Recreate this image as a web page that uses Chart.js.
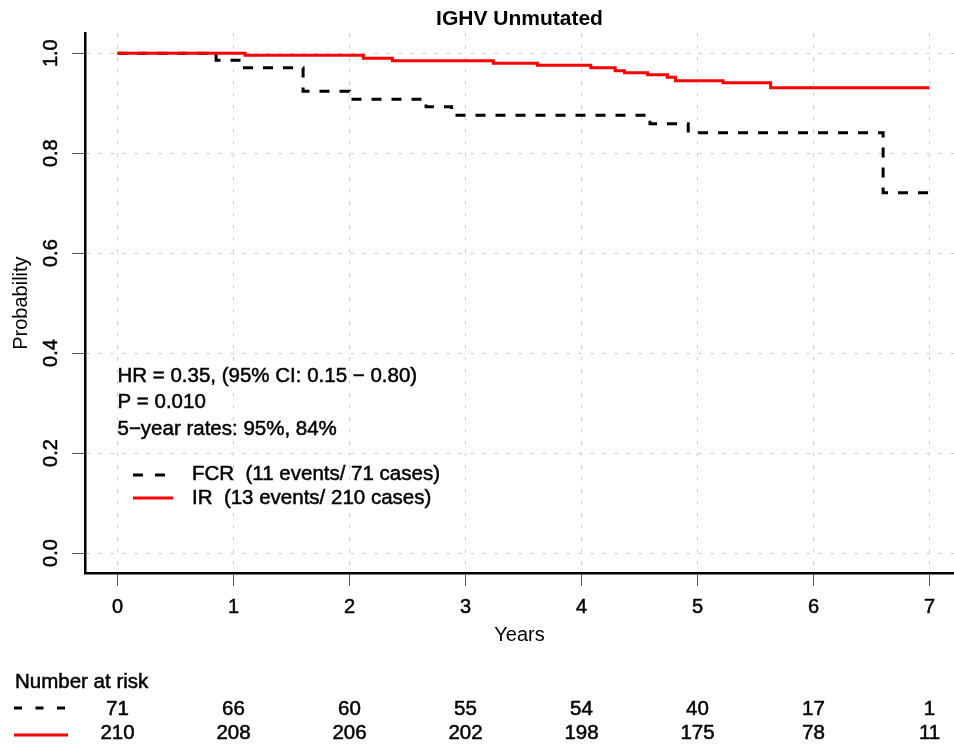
<!DOCTYPE html>
<html>
<head>
<meta charset="utf-8">
<title>IGHV Unmutated</title>
<script src="https://cdn.jsdelivr.net/npm/chart.js@4.4.1/dist/chart.umd.min.js"></script>
<style>
  html, body { margin: 0; padding: 0; background: #fff; }
  #wrap { width: 954px; height: 746px; }
</style>
</head>
<body>
<div id="wrap"><canvas id="km" width="954" height="746"></canvas></div>
<script>
// Kaplan-Meier steps (years, survival probability)
const fcrTimes = [0, 0.85, 1.08, 1.6, 2.0, 2.66, 2.88, 4.59, 4.92, 6.6, 7.0];
const fcrSurv  = [1.0, 0.986, 0.971, 0.924, 0.908, 0.893, 0.876, 0.859, 0.841, 0.721, 0.721];

const irTimes = [0, 1.1, 2.12, 2.37, 3.24, 3.62, 4.08, 4.29, 4.37, 4.57, 4.74, 4.81, 5.22, 5.63, 7.0];
const irSurv  = [1.0, 0.996, 0.990, 0.985, 0.980, 0.976, 0.971, 0.965, 0.961, 0.957, 0.952, 0.945, 0.941, 0.931, 0.931];

const yearTicks = [0, 1, 2, 3, 4, 5, 6, 7];
const probTicks = [0, 0.2, 0.4, 0.6, 0.8, 1.0];

// number at risk table
const riskYears = [0, 1, 2, 3, 4, 5, 6, 7];
const fcrRisk = [71, 66, 60, 55, 54, 40, 17, 1];
const irRisk  = [210, 208, 206, 202, 198, 175, 78, 11];

const statLines = [
  'HR = 0.35, (95% CI: 0.15 \u2212 0.80)',
  'P = 0.010',
  '5\u2212year rates: 95%, 84%',
];
const legendLabels = ['FCR  (11 events/ 71 cases)', 'IR  (13 events/ 210 cases)'];

const FAMILY = '"Liberation Sans", Arial, Helvetica, sans-serif';

function toPoints(times, surv) {
  return times.map((t, i) => ({ x: t, y: surv[i] }));
}

function sampleLine(ctx, x1, x2, y, color, dash) {
  ctx.save();
  ctx.strokeStyle = color;
  ctx.lineWidth = 3;
  ctx.setLineDash(dash);
  ctx.beginPath();
  ctx.moveTo(x1, y);
  ctx.lineTo(x2, y);
  ctx.stroke();
  ctx.restore();
}

function heavyText(ctx, s, x, y) {
  ctx.fillText(s, x, y);
  ctx.strokeText(s, x, y);
}

// stats text, in-plot legend and the number-at-risk table
const kmText = {
  id: 'kmText',
  afterDraw(chart) {
    const { ctx, scales: { x } } = chart;
    ctx.save();
    ctx.fillStyle = '#000';
    ctx.strokeStyle = '#000';
    ctx.lineWidth = 0.5;
    ctx.font = `20.5px ${FAMILY}`;
    ctx.textBaseline = 'middle';
    ctx.textAlign = 'left';

    const x0 = x.getPixelForValue(0);
    statLines.forEach((s, i) => heavyText(ctx, s, x0, 376 + i * 26.5));

    sampleLine(ctx, 133, 165, 475, '#000', [10, 12]);
    sampleLine(ctx, 133, 173, 498, '#ff0000', []);
    heavyText(ctx, legendLabels[0], 192, 474);
    heavyText(ctx, legendLabels[1], 192, 498);

    heavyText(ctx, 'Number at risk', 15, 682);
    sampleLine(ctx, 14, 65, 708, '#000', [8, 13.5]);
    sampleLine(ctx, 14, 68, 735, '#ff0000', []);
    ctx.textAlign = 'center';
    riskYears.forEach((yr, i) => {
      const px = x.getPixelForValue(yr);
      heavyText(ctx, String(fcrRisk[i]), px, 709);
      heavyText(ctx, String(irRisk[i]), px, 733);
    });
    ctx.restore();
  },
};

const axisFont = { family: FAMILY, size: 20 };

new Chart(document.getElementById('km'), {
  type: 'line',
  data: {
    datasets: [
      {
        label: 'FCR',
        data: toPoints(fcrTimes, fcrSurv),
        borderColor: '#000000',
        borderWidth: 3,
        borderDash: [10, 10],
        stepped: true,
        pointRadius: 0,
        fill: false,
        order: 1,
      },
      {
        label: 'IR',
        data: toPoints(irTimes, irSurv),
        borderColor: '#ff0000',
        borderWidth: 3,
        stepped: true,
        pointRadius: 0,
        fill: false,
        order: 0,
      },
    ],
  },
  options: {
    responsive: false,
    animation: false,
    layout: { padding: 0 },
    plugins: {
      legend: { display: false },
      tooltip: { enabled: false },
      title: {
        display: true,
        text: 'IGHV Unmutated',
        fullSize: false,
        color: '#000',
        font: { family: FAMILY, size: 21, weight: 'bold', lineHeight: 1.2 },
        padding: { top: 7, bottom: 1 },
      },
    },
    scales: {
      x: {
        type: 'linear',
        min: -0.28,
        max: 7.211, // plot region is cut off at the right edge of the figure
        afterBuildTicks: (s) => { s.ticks = yearTicks.map((v) => ({ value: v })); },
        afterFit: (s) => { s.height = 173; },
        ticks: {
          color: '#000',
          font: axisFont,
          padding: 9,
          maxRotation: 0,
          autoSkip: false,
          textStrokeColor: '#000',
          textStrokeWidth: 0.5,
          callback: (v) => String(v),
        },
        grid: { color: '#cccccc', lineWidth: 1, tickColor: '#555555', tickLength: 13, tickWidth: 1 },
        border: { display: true, color: '#000', width: 2.5, dash: [3.5, 8.5] },
        title: {
          display: true,
          text: 'Years',
          color: '#000',
          font: axisFont,
          padding: { top: 0, bottom: 99 },
        },
      },
      y: {
        type: 'linear',
        min: -0.04,
        max: 1.04,
        afterBuildTicks: (s) => { s.ticks = probTicks.map((v) => ({ value: v })); },
        afterFit: (s) => { s.width = 85; },
        ticks: {
          color: '#000',
          font: axisFont,
          padding: 7,
          minRotation: 90,
          maxRotation: 90,
          crossAlign: 'center',
          textStrokeColor: '#000',
          textStrokeWidth: 0.5,
          callback: (v) => Number(v).toFixed(1),
        },
        grid: { color: '#cccccc', lineWidth: 1, tickColor: '#555555', tickLength: 13, tickWidth: 1 },
        border: { display: true, color: '#000', width: 2.5, dash: [3.5, 8.5] },
        title: {
          display: true,
          text: 'Probability',
          color: '#000',
          font: axisFont,
          padding: { top: 9, bottom: 0 },
        },
      },
    },
  },
  plugins: [kmText],
});
</script>
</body>
</html>
